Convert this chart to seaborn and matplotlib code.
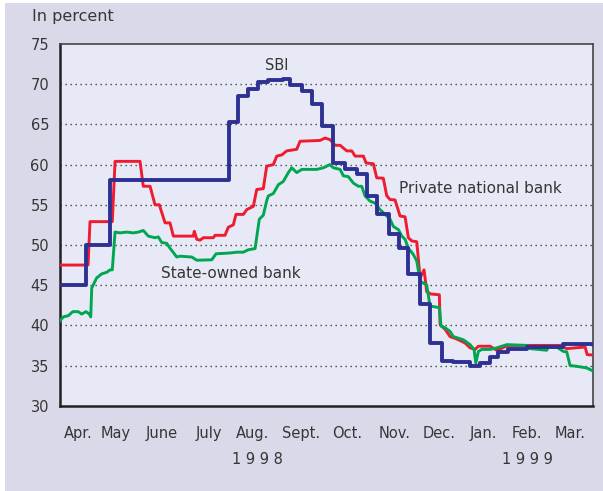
import matplotlib
matplotlib.use("Agg")
import matplotlib.pyplot as plt
import matplotlib.transforms as mtransforms
from matplotlib.patches import Rectangle
import seaborn as sns
import pandas as pd

# ---------------- data (x = weeks since start of April 1998) ----------------
month_edges = [0, 3.68, 7.36, 12.57, 16.46, 21.2, 25.86, 30.25, 34.97, 39.02, 43.5, 47.54, 52.0]
month_labels = ["Apr.", "May", "June", "July", "Aug.", "Sept.", "Oct.", "Nov.", "Dec.", "Jan.", "Feb.", "Mar."]
year_labels = ["1 9 9 8", "1 9 9 9"]
year_pos = [19.24, 45.54]
y_ticks = [30, 35, 40, 45, 50, 55, 60, 65, 70, 75]

sbi_x = [0, 2.58, 4.92, 16.54, 17.36, 18.39, 19.37, 20.34, 21.77, 22.46, 23.6, 24.57,
         25.54, 26.67, 27.81, 28.95, 29.93, 30.96, 32.13, 33.1, 33.98, 35.12, 36.09,
         37.23, 38.33, 39.99, 40.96, 41.94, 42.72, 43.69, 45.54, 49.05, 52.0]
sbi_y = [45.0, 50.0, 58.1, 65.3, 68.5, 69.4, 70.3, 70.5, 70.7, 69.95, 69.1, 67.5,
         64.8, 60.2, 59.4, 58.8, 56.1, 53.8, 51.3, 49.6, 46.4, 42.6, 37.8,
         35.6, 35.4, 35.0, 35.3, 36.0, 36.7, 37.0, 37.3, 37.7, 37.6]

pnb_x = [0, 2.78, 2.97, 5.14, 5.41, 7.84, 8.16, 8.82, 9.3, 9.72, 10.28, 10.76, 11.09,
         13.03, 13.13, 13.37, 13.69, 14.01, 14.98, 15.15, 16.12, 16.44, 16.93, 17.19,
         17.91, 18.24, 18.88, 19.21, 19.85, 20.18, 20.83, 21.16, 21.65, 22.13, 23.11,
         23.43, 25.38, 25.86, 26.35, 26.84, 27.33, 27.98, 28.47, 28.79, 29.6, 29.86,
         30.57, 30.9, 31.54, 31.88, 32.2, 32.68, 33.17, 33.66, 33.98, 34.31, 34.8,
         35.12, 35.51, 35.77, 36.16, 37.0, 37.07, 37.56, 38.04, 38.69, 39.5, 39.99,
         40.48, 40.8, 41.94, 42.59, 43.72, 48.76, 49.41, 51.2, 51.4, 52.0]
pnb_y = [47.5, 47.5, 52.9, 52.9, 60.4, 60.4, 57.3, 57.3, 55.0, 55.0, 52.75, 52.75, 51.1,
         51.1, 51.7, 50.7, 50.6, 50.9, 50.9, 51.2, 51.2, 52.2, 52.5, 53.8,
         53.8, 54.4, 54.8, 56.9, 57.0, 59.8, 60.0, 61.05, 61.2, 61.7, 61.9,
         62.9, 63.0, 63.3, 63.1, 62.4, 62.4, 61.7, 61.7, 61.05, 61.05, 60.2,
         60.1, 58.35, 58.3, 56.1, 55.65, 55.6, 53.6, 53.5, 50.9, 50.5, 50.4,
         45.9, 46.9, 44.2, 43.9, 43.8, 40.1, 39.5, 38.6, 38.3, 37.8, 37.2,
         37.0, 37.4, 37.4, 36.9, 37.5, 37.5, 37.1, 37.3, 36.35, 36.3]

sob_x = [0, 0.37, 0.86, 1.29, 1.83, 2.16, 2.58, 2.9, 3.04, 3.14, 3.62, 4.11, 4.6, 4.92,
         5.14, 5.41, 5.89, 6.55, 7.19, 7.68, 8.16, 8.65, 9.3, 9.62, 9.96, 10.44, 10.76,
         11.42, 11.74, 12.88, 13.37, 14.83, 15.25, 16.61, 17.26, 17.91, 18.39, 19.05,
         19.46, 19.85, 20.18, 20.34, 20.83, 21.32, 21.8, 22.29, 22.62, 23.11, 23.6,
         25.06, 25.7, 26.35, 26.67, 27.33, 27.65, 28.13, 28.62, 29.11, 29.44, 29.76,
         30.25, 30.74, 31.22, 31.88, 32.2, 32.52, 33.01, 33.34, 33.66, 33.98, 34.47,
         34.8, 35.12, 35.77, 36.09, 37.0, 37.16, 37.56, 38.04, 38.36, 39.34, 39.99,
         40.38, 40.55, 40.8, 41.13, 41.94, 42.59, 43.57, 45.51, 45.84, 47.46, 47.62,
         48.43, 49.08, 49.41, 49.73, 50.38, 51.36, 52.0]
sob_y = [40.5, 41.05, 41.2, 41.7, 41.7, 41.4, 41.7, 41.4, 41.05, 44.65, 45.9, 46.4, 46.6, 46.9,
         46.9, 51.6, 51.5, 51.6, 51.5, 51.6, 51.8, 51.1, 50.9, 51.0, 50.3, 50.2, 49.6,
         48.5, 48.6, 48.5, 48.1, 48.15, 48.9, 49.0, 49.1, 49.1, 49.4, 49.55,
         53.2, 53.7, 55.5, 56.1, 56.4, 57.5, 57.9, 59.0, 59.6, 59.0, 59.4,
         59.4, 59.6, 60.0, 59.6, 59.4, 58.6, 58.5, 57.7, 57.3, 57.3, 56.1,
         55.45, 55.2, 54.4, 53.6, 53.2, 52.3, 51.9, 51.1, 50.7, 49.6, 48.8,
         48.0, 45.5, 45.0, 42.4, 42.2, 39.9, 39.7, 39.25, 38.6, 38.2, 37.6,
         37.0, 35.3, 36.75, 37.0, 37.0, 37.2, 37.6, 37.5, 37.1, 36.9, 37.4,
         37.3, 36.75, 36.7, 35.0, 34.9, 34.7, 34.3]

# ---------------- style ----------------
sns.set_theme(style="white")
plt.rcParams["font.family"] = ["DejaVu Sans"]

panel_col = "#dad9ea"
face_col = "#e7eaf6"
txt_col = "#363636"
col_sbi = "#2e3192"
col_pnb = "#ee1c2e"
col_sob = "#00a651"

fig = plt.figure(figsize=(6.03, 4.91), dpi=100, facecolor="white")
fig.patches.append(Rectangle((5 / 603, 0), 1 - 5 / 603, 488 / 491, transform=fig.transFigure,
                             facecolor=panel_col, edgecolor="none", zorder=-10))
ax = fig.add_axes([0.0987, 0.1737, 0.8853, 0.7367])
ax.set_facecolor(face_col)

df_sbi = pd.DataFrame({"x": sbi_x, "y": sbi_y})
df_pnb = pd.DataFrame({"x": pnb_x, "y": pnb_y})
df_sob = pd.DataFrame({"x": sob_x, "y": sob_y})

sns.lineplot(data=df_pnb, x="x", y="y", ax=ax, color=col_pnb, linewidth=2.1,
             sort=False, estimator=None, zorder=3)
sns.lineplot(data=df_sob, x="x", y="y", ax=ax, color=col_sob, linewidth=2.1,
             sort=False, estimator=None, zorder=4)
sns.lineplot(data=df_sbi, x="x", y="y", ax=ax, color=col_sbi, linewidth=2.8,
             sort=False, estimator=None, drawstyle="steps-post", zorder=5)

ax.set_xlim(month_edges[0], month_edges[-1])
ax.set_ylim(30, 75)
ax.set_xlabel("")
ax.set_ylabel("")

# grid
for v in y_ticks[1:-1]:
    ax.axhline(v, color="#444444", linewidth=1.0, linestyle=(0, (1, 2.6)), zorder=1)

# spines
for s in ["left", "bottom"]:
    ax.spines[s].set_color("#222222")
    ax.spines[s].set_linewidth(1.8)
for s in ["top", "right"]:
    ax.spines[s].set_color("#444444")
    ax.spines[s].set_linewidth(1.2)

ax.set_yticks(y_ticks)
ax.set_yticklabels([str(v) for v in y_ticks])
ax.tick_params(axis="y", direction="out", length=4.5, width=1.2, color="#222222",
               labelsize=10.5, labelcolor=txt_col, pad=3)
ax.set_xticks(month_edges)
ax.set_xticklabels([])
ax.tick_params(axis="x", direction="inout", length=8, width=1.2, color="#222222")

trans = mtransforms.blended_transform_factory(ax.transData, ax.transAxes)
for i, lab in enumerate(month_labels):
    xc = (month_edges[i] + month_edges[i + 1]) / 2
    ax.text(xc, -0.0755, lab, transform=trans, ha="center", va="center",
            fontsize=10.5, color=txt_col)
for xp, lab in zip(year_pos, year_labels):
    ax.text(xp, -0.150, lab, transform=trans, ha="center", va="center",
            fontsize=10.5, color=txt_col)

ax.text(21.19, 72.3, "SBI", ha="center", va="center", fontsize=10.5, color=txt_col)
ax.text(40.96, 57.0, "Private national bank", ha="center", va="center", fontsize=11, color=txt_col)
ax.text(16.7, 46.4, "State-owned bank", ha="center", va="center", fontsize=11, color=txt_col)

fig.text(32 / 603, 1 - 17 / 491, "In percent", ha="left", va="center", fontsize=11.5, color=txt_col)

fig.savefig("out.png", dpi=100, facecolor="white")
